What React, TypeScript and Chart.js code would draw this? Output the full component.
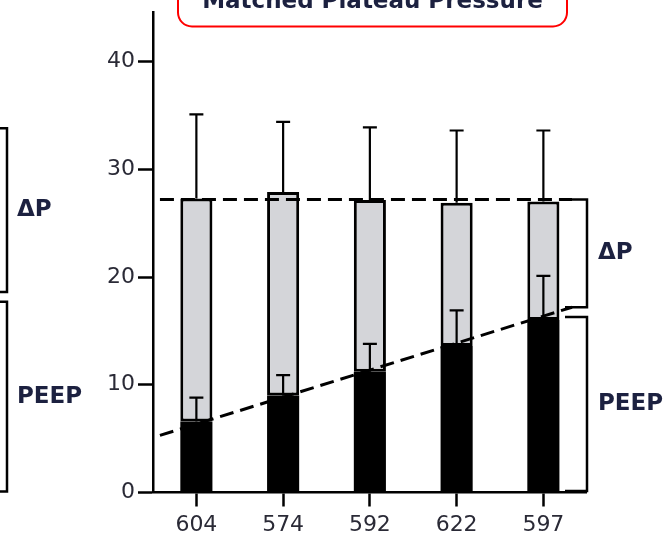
import React, { useEffect, useRef } from "react";
import { Chart, registerables } from "chart.js";

Chart.register(...registerables);

const categories = ["604", "574", "592", "622", "597"];
const peepMean = [6.6, 9.0, 11.2, 13.6, 16.0];
const deltaPMean = [20.7, 18.9, 15.95, 13.3, 11.0];
const peepSD = [2.2, 1.9, 2.6, 3.3, 4.1];
const plateauSD = [7.8, 6.5, 6.75, 6.7, 6.6];
const yMin = 0;
const yMax = 44.6;
const yStep = 10;
const titleText = "Matched Plateau Pressure";
// dashed reference lines: [categoryIndex, value]
const plateauLine = [
  [-0.42, 27.2],
  [4.33, 27.2],
];
const peepLine = [
  [-0.42, 5.3],
  [4.33, 17.2],
];
// brackets: [label, fromValue, toValue]
const leftBrackets: [string, number, number][] = [
  ["ΔP", 33.8, 18.6],
  ["PEEP", 17.7, 0.1],
];
const rightBrackets: [string, number, number][] = [
  ["ΔP", 27.2, 17.2],
  ["PEEP", 16.3, 0.15],
];

const TEXT = "#1c2140";
const TICK_TEXT = "#2a2a36";

const overlayPlugin = {
  id: "overlay",
  afterDatasetsDraw(chart: any) {
    const { ctx } = chart;
    const x = chart.scales.x;
    const y = chart.scales.y;
    ctx.save();
    // dashed lines
    ctx.strokeStyle = "#000";
    ctx.lineWidth = 3;
    ctx.setLineDash([14, 7]);
    for (const line of [plateauLine, peepLine]) {
      ctx.beginPath();
      ctx.moveTo(x.getPixelForValue(line[0][0]), y.getPixelForValue(line[0][1]));
      ctx.lineTo(x.getPixelForValue(line[1][0]), y.getPixelForValue(line[1][1]));
      ctx.stroke();
    }
    ctx.setLineDash([]);
    // error bars
    ctx.lineWidth = 2.2;
    const cap = 7;
    categories.forEach((_, i) => {
      const cx = x.getPixelForValue(i);
      const drawErr = (base: number, sd: number) => {
        const y0 = y.getPixelForValue(base);
        const y1 = y.getPixelForValue(base + sd);
        ctx.beginPath();
        ctx.moveTo(cx, y0);
        ctx.lineTo(cx, y1);
        ctx.moveTo(cx - cap, y1);
        ctx.lineTo(cx + cap, y1);
        ctx.stroke();
      };
      drawErr(peepMean[i] + deltaPMean[i], plateauSD[i]);
      drawErr(peepMean[i], peepSD[i]);
    });
    ctx.restore();
  },
  afterDraw(chart: any) {
    const { ctx } = chart;
    const y = chart.scales.y;
    ctx.save();
    // title box
    const bl = 178,
      br = 567,
      bb = 26.5,
      bt = -30,
      r = 14;
    ctx.strokeStyle = "#ff0000";
    ctx.lineWidth = 2;
    ctx.beginPath();
    ctx.moveTo(bl, bt);
    ctx.lineTo(bl, bb - r);
    ctx.arcTo(bl, bb, bl + r, bb, r);
    ctx.lineTo(br - r, bb);
    ctx.arcTo(br, bb, br, bb - r, r);
    ctx.lineTo(br, bt);
    ctx.stroke();
    ctx.fillStyle = TEXT;
    ctx.font = "bold 23px 'DejaVu Sans'";
    ctx.textAlign = "center";
    ctx.textBaseline = "alphabetic";
    ctx.fillText(titleText, (bl + br) / 2, 8);

    // brackets
    ctx.strokeStyle = "#000";
    ctx.lineWidth = 2.5;
    ctx.font = "bold 23px 'DejaVu Sans'";
    ctx.textAlign = "left";
    ctx.textBaseline = "middle";
    const drawBracket = (
      b: [string, number, number],
      xl: number,
      xr: number,
      labelX: number
    ) => {
      const y0 = y.getPixelForValue(b[1]);
      const y1 = y.getPixelForValue(b[2]);
      ctx.beginPath();
      ctx.moveTo(xl, y0);
      ctx.lineTo(xr, y0);
      ctx.lineTo(xr, y1);
      ctx.lineTo(xl, y1);
      ctx.stroke();
      ctx.fillText(b[0], labelX, (y0 + y1) / 2);
    };
    leftBrackets.forEach((b) => drawBracket(b, -5, 7, 17));
    rightBrackets.forEach((b) => drawBracket(b, 565, 587, 598));
    ctx.restore();
  },
};

export default function App() {
  const ref = useRef<HTMLCanvasElement>(null);
  useEffect(() => {
    if (!ref.current) return;
    const chart = new Chart(ref.current, {
      type: "bar",
      data: {
        labels: categories,
        datasets: [
          {
            label: "PEEP",
            data: peepMean,
            backgroundColor: "#000000",
            borderWidth: 0,
            barPercentage: 0.37,
            categoryPercentage: 1,
          },
          {
            label: "ΔP",
            data: deltaPMean,
            backgroundColor: "#d4d5d9",
            borderColor: "#000000",
            borderWidth: 3,
            borderSkipped: false,
            barPercentage: 0.37,
            categoryPercentage: 1,
          },
        ],
      },
      options: {
        responsive: false,
        animation: false,
        layout: { padding: { top: 12, left: 0, right: 83.25, bottom: 0 } },
        plugins: {
          legend: { display: false },
          tooltip: { enabled: false },
          title: { display: false },
        },
        scales: {
          x: {
            stacked: true,
            afterFit: (s: any) => {
              s.height = 45.5;
              s.paddingLeft = 0;
              s.paddingRight = 0;
            },
            grid: {
              display: true,
              drawOnChartArea: false,
              drawTicks: true,
              tickLength: 14,
              tickWidth: 2.5,
              tickColor: "#000",
              offset: false,
            },
            border: { display: true, color: "#000", width: 2.5 },
            ticks: {
              color: TICK_TEXT,
              font: { family: "'DejaVu Sans'", size: 22 },
              padding: 6,
              maxRotation: 0,
            },
          },
          y: {
            stacked: true,
            min: yMin,
            max: yMax,
            afterFit: (s: any) => {
              s.width = 153;
              s.paddingTop = 0;
              s.paddingBottom = 0;
            },
            grid: {
              display: true,
              drawOnChartArea: false,
              drawTicks: true,
              tickLength: 15,
              tickWidth: 2.5,
              tickColor: "#000",
            },
            border: { display: true, color: "#000", width: 2.5 },
            ticks: {
              stepSize: yStep,
              includeBounds: false,
              color: TICK_TEXT,
              font: { family: "'DejaVu Sans'", size: 22 },
              padding: 3,
            },
          },
        },
      },
      plugins: [overlayPlugin],
    });
    return () => chart.destroy();
  }, []);
  return (
    <div style={{ position: "fixed", left: 0, top: 0, width: 670, height: 538, background: "#fff" }}>
      <canvas ref={ref} width={670} height={538} style={{ display: "block" }} />
    </div>
  );
}
